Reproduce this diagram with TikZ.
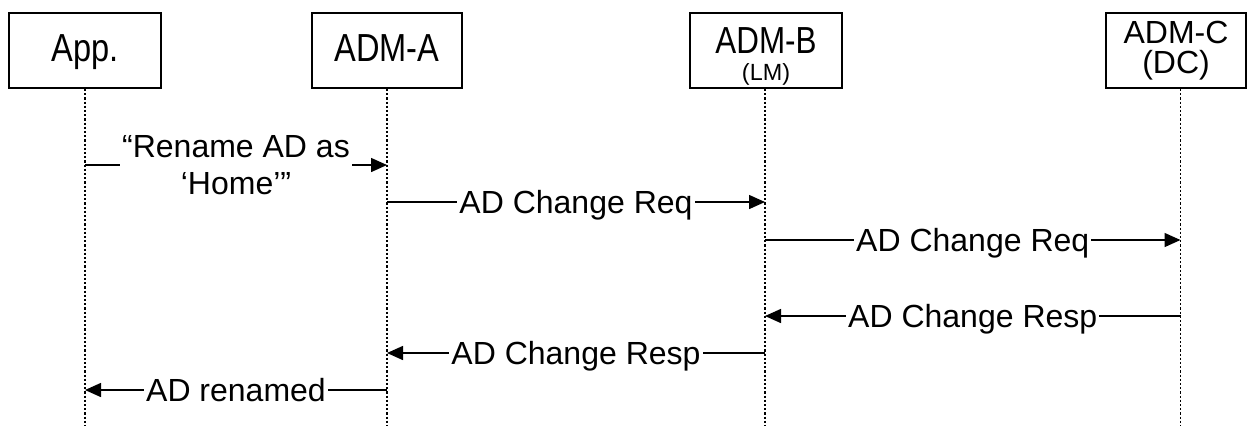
\documentclass[tikz,border=0pt]{standalone}
\usepackage{graphicx}
\usepackage{fontspec}
\setmainfont{Liberation Sans}
\usetikzlibrary{arrows.meta}
\tikzset{
actor/.style={line width=0.9pt,rectangle,draw=black,minimum height=37.5pt,inner sep=0pt,align=center,font=\fontsize{16.3}{16.5}\selectfont},
lifeline/.style={line width=0.85pt,draw=black,dash pattern=on 1.1pt off 1pt},
msg/.style={line width=0.75pt,draw=black,-{Triangle[length=8pt,width=7pt]}},
lbl/.style={fill=white,inner sep=1pt,text height=11.5pt,text depth=0pt,font=\fontsize{16}{17.5}\selectfont},
}
\newcommand{\rolefont}{\fontsize{11.7}{12}\selectfont}
\newcommand{\tall}[1]{\scalebox{1}[1.2]{#1}}

\begin{document}
\begin{tikzpicture}[
x=0.5pt, y=-0.5pt,
]
\useasboundingbox (0,0) rectangle (1247,425);
% participants
\node[actor,minimum width=76pt,text height=14pt,text depth=3.5pt] (app) at (85,50.5) {\tall{App.}};
\node[actor,minimum width=75pt,text height=14pt,text depth=3.5pt] (adma) at (387,50.5) {\tall{ADM-A}};
\node[actor,minimum width=76pt,text height=31pt,text depth=1.5pt,font=\fontsize{15.7}{13.5}\selectfont] (admb) at (766,50.5) {\tall{ADM-B}\\{\rolefont (LM)}};
\node[actor,minimum width=70pt,text height=25pt,text depth=2.5pt,font=\fontsize{16}{15}\selectfont] (admc) at (1176,50.5) {ADM-C\\(DC)};
\coordinate (append) at (85,425);
\coordinate (admaend) at (387,425);
\coordinate (admbend) at (765,425);
\coordinate (admcend) at (1180.5,425);
% lifelines
\draw[lifeline] (app) -- (append);
\draw[lifeline] (adma) -- (admaend);
\draw[lifeline] (admb.south -| admbend) -- (admbend);
\draw[lifeline] (admc.south -| admcend) -- (admcend);
% messages
\draw[msg] (append |- 0,165) -- node[fill=white,inner sep=1pt,align=center,font=\fontsize{16}{18.5}\selectfont] {“Rename AD as\\‘Home’”} (admaend |- 0,165);
\draw[msg] (admaend |- 0,202) -- node[lbl] {AD Change Req} (admbend |- 0,202);
\draw[msg] (admbend |- 0,240) -- node[lbl] {AD Change Req} (admcend |- 0,240);
\draw[msg] (admcend |- 0,316) -- node[lbl] {AD Change Resp} (admbend |- 0,316);
\draw[msg] (admbend |- 0,353) -- node[lbl] {AD Change Resp} (admaend |- 0,353);
\draw[msg] (admaend |- 0,390) -- node[lbl] {AD renamed} (append |- 0,390);
\end{tikzpicture}
\end{document}
